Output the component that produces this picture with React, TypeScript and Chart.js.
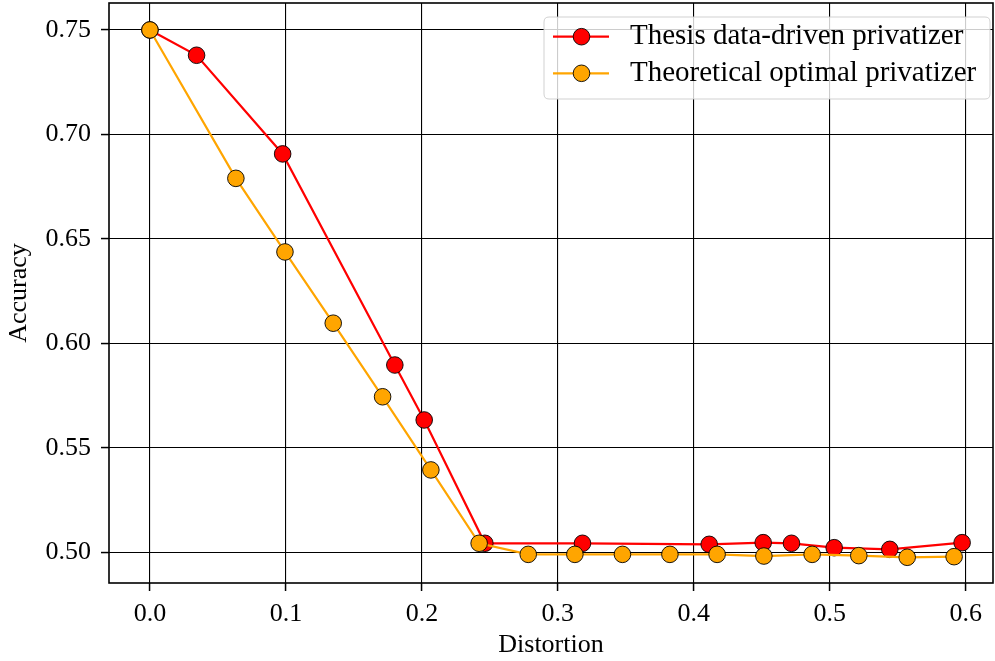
import React, { useEffect, useRef } from "react";
import { Chart, registerables } from "chart.js";

Chart.register(...registerables);

const redLabel = "Thesis data-driven privatizer";
const orangeLabel = "Theoretical optimal privatizer";

const redX = [0, 0.0343, 0.0976, 0.1801, 0.2017, 0.2463, 0.3181, 0.4113, 0.451, 0.4718, 0.5032, 0.5441, 0.5973];
const redY = [0.75, 0.7379, 0.6907, 0.5897, 0.5634, 0.5044, 0.5044, 0.5039, 0.5047, 0.5044, 0.5023, 0.5015, 0.5047];

const orangeX = [0, 0.0632, 0.0993, 0.1348, 0.1711, 0.2066, 0.2421, 0.2782, 0.3125, 0.3475, 0.3824, 0.4171, 0.4515, 0.487, 0.5213, 0.5569, 0.5914];
const orangeY = [0.75, 0.679, 0.6438, 0.6097, 0.5745, 0.5395, 0.5044, 0.4991, 0.4991, 0.4991, 0.4991, 0.4991, 0.4983, 0.4991, 0.4985, 0.4977, 0.498];

const xTicks = [0, 0.1, 0.2, 0.3, 0.4, 0.5, 0.6];
const yTicks = [0.5, 0.55, 0.6, 0.65, 0.7, 0.75];

const FONT = "'Liberation Serif', 'DejaVu Serif', serif";

const framePlugin = {
  id: "frameAndLegend",
  afterDatasetsDraw(chart: any) {
    const { ctx, chartArea } = chart;
    ctx.save();
    ctx.strokeStyle = "#000";
    ctx.lineWidth = 1.6;
    ctx.strokeRect(chartArea.left, chartArea.top, chartArea.right - chartArea.left, chartArea.bottom - chartArea.top);
    ctx.restore();
  },
  afterDraw(chart: any) {
    const { ctx } = chart;
    const bx = 544, by = 17, bw = 446, bh = 82, r = 5;
    ctx.save();
    ctx.beginPath();
    ctx.moveTo(bx + r, by);
    ctx.lineTo(bx + bw - r, by);
    ctx.quadraticCurveTo(bx + bw, by, bx + bw, by + r);
    ctx.lineTo(bx + bw, by + bh - r);
    ctx.quadraticCurveTo(bx + bw, by + bh, bx + bw - r, by + bh);
    ctx.lineTo(bx + r, by + bh);
    ctx.quadraticCurveTo(bx, by + bh, bx, by + bh - r);
    ctx.lineTo(bx, by + r);
    ctx.quadraticCurveTo(bx, by, bx + r, by);
    ctx.closePath();
    ctx.fillStyle = "rgba(255,255,255,0.8)";
    ctx.fill();
    ctx.strokeStyle = "rgba(204,204,204,0.9)";
    ctx.lineWidth = 1;
    ctx.stroke();
    const items = chart.data.datasets.slice().sort((a: any, b: any) => a.legendIndex - b.legendIndex);
    items.forEach((ds: any, i: number) => {
      const y = 36.7 + i * 36.6;
      ctx.beginPath();
      ctx.moveTo(553, y);
      ctx.lineTo(609, y);
      ctx.strokeStyle = ds.borderColor;
      ctx.lineWidth = 2.2;
      ctx.stroke();
      ctx.beginPath();
      ctx.arc(581.5, y, 8.3, 0, Math.PI * 2);
      ctx.fillStyle = ds.pointBackgroundColor;
      ctx.fill();
      ctx.strokeStyle = "#000";
      ctx.lineWidth = 0.9;
      ctx.stroke();
      ctx.fillStyle = "#000";
      ctx.font = "29px " + FONT;
      ctx.textBaseline = "middle";
      ctx.textAlign = "left";
      ctx.fillText(ds.label, 630, y);
    });
    ctx.restore();
  },
};

export default function App() {
  const ref = useRef<HTMLCanvasElement | null>(null);
  useEffect(() => {
    if (!ref.current) return;
    const redData = redX.map((x, i) => ({ x, y: redY[i] }));
    const orangeData = orangeX.map((x, i) => ({ x, y: orangeY[i] }));
    const chart = new Chart(ref.current, {
      type: "line",
      data: {
        datasets: [
          {
            label: redLabel,
            legendIndex: 0,
            data: redData,
            borderColor: "#ff0000",
            backgroundColor: "#ff0000",
            pointBackgroundColor: "#ff0000",
            pointBorderColor: "#000",
            pointBorderWidth: 0.9,
            pointRadius: 8.3,
            borderWidth: 2.2,
            tension: 0,
            order: 1,
          } as any,
          {
            label: orangeLabel,
            legendIndex: 1,
            data: orangeData,
            borderColor: "#ffa500",
            backgroundColor: "#ffa500",
            pointBackgroundColor: "#ffa500",
            pointBorderColor: "#000",
            pointBorderWidth: 0.9,
            pointRadius: 8.3,
            borderWidth: 2.2,
            tension: 0,
            order: 0,
          } as any,
        ],
      },
      options: {
        responsive: false,
        animation: false,
        clip: false as any,
        layout: { autoPadding: false, padding: { top: 3, right: 2, left: 0, bottom: 0 } } as any,
        plugins: { legend: { display: false }, tooltip: { enabled: false } },
        scales: {
          x: {
            type: "linear",
            min: -0.0301,
            max: 0.62,
            afterFit(scale: any) {
              scale.height = 78;
              scale.paddingLeft = 0;
              scale.paddingRight = 0;
            },
            afterBuildTicks(scale: any) {
              scale.ticks = xTicks.map((v) => ({ value: v }));
            },
            ticks: {
              font: { family: FONT, size: 26 },
              color: "#000",
              padding: 8,
              maxRotation: 0,
              callback: (v: any) => Number(v).toFixed(1),
            },
            grid: {
              color: "#000",
              lineWidth: 1.1,
              tickLength: 8,
              tickColor: "#000",
              tickWidth: 1.5,
            },
            border: { display: false },
            title: {
              display: true,
              text: "Distortion",
              font: { family: FONT, size: 26 },
              color: "#000",
              padding: { top: 0, bottom: 0 },
            },
          },
          y: {
            type: "linear",
            min: 0.4854,
            max: 0.7629,
            afterFit(scale: any) {
              scale.width = 109;
              scale.paddingTop = 0;
              scale.paddingBottom = 0;
            },
            afterBuildTicks(scale: any) {
              scale.ticks = yTicks.map((v) => ({ value: v }));
            },
            ticks: {
              font: { family: FONT, size: 26 },
              color: "#000",
              padding: 10,
              callback: (v: any) => Number(v).toFixed(2),
            },
            grid: {
              color: "#000",
              lineWidth: 1.1,
              tickLength: 8,
              tickColor: "#000",
              tickWidth: 1.5,
            },
            border: { display: false },
            title: {
              display: true,
              text: "Accuracy",
              font: { family: FONT, size: 26 },
              color: "#000",
              padding: { top: 4, bottom: 0 },
            },
          },
        },
      },
      plugins: [framePlugin],
    });
    return () => chart.destroy();
  }, []);
  return (
    <div style={{ position: "absolute", left: 0, top: 0, width: 995, height: 661, background: "#fff" }}>
      <canvas ref={ref} width={995} height={661} style={{ display: "block" }} />
    </div>
  );
}
